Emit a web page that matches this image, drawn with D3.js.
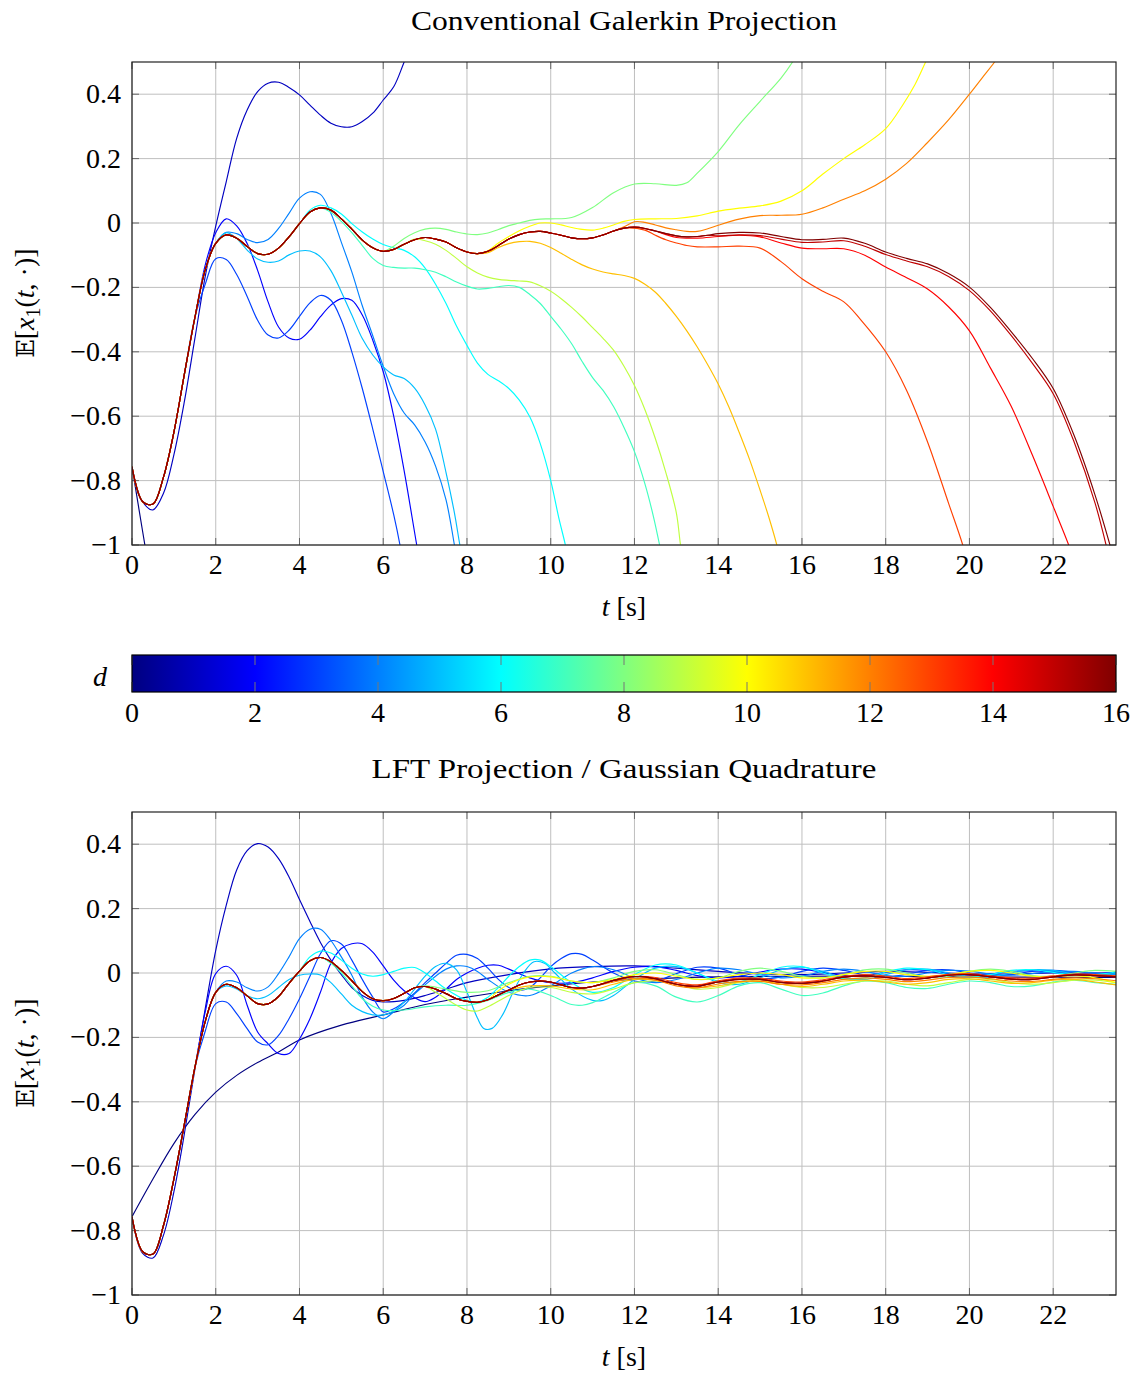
<!DOCTYPE html>
<html><head><meta charset="utf-8">
<script src="https://cdn.jsdelivr.net/npm/d3@7"></script>
<style>
body{margin:0;background:#fff}
text{font-family:"Liberation Serif","Times New Roman",serif;fill:#000}
</style>
</head><body>
<svg id="chart" width="1143" height="1374"></svg>
<script>
// ---------------- DATA ----------------
const xTicks = [0,2,4,6,8,10,12,14,16,18,20,22];
const yTicks = [-1,-0.8,-0.6,-0.4,-0.2,0,0.2,0.4];
const cbTicks = [0,2,4,6,8,10,12,14,16];

// Conventional Galerkin projection: common (converged) trajectory
const galMain = [[0,-0.757],[0.25,-0.865],[0.5,-0.873],[0.75,-0.79],[1,-0.65],[1.25,-0.47],[1.5,-0.295],[1.75,-0.145],[2,-0.063],[2.25,-0.037],[2.5,-0.047],[2.75,-0.073],[3,-0.095],[3.25,-0.097],[3.5,-0.078],[3.75,-0.043],[4,-0.002],[4.25,0.034],[4.5,0.047],[4.75,0.04],[5,0.013],[5.25,-0.019],[5.5,-0.053],[5.75,-0.077],[6,-0.088],[6.25,-0.082],[6.5,-0.066],[6.75,-0.052],[7,-0.045],[7.25,-0.05],[7.5,-0.059],[7.75,-0.077],[8,-0.09],[8.25,-0.095],[8.5,-0.088],[8.75,-0.07],[9,-0.05],[9.25,-0.036],[9.5,-0.028],[9.75,-0.026],[10,-0.031],[10.25,-0.038],[10.5,-0.046],[10.75,-0.049],[11,-0.046],[11.25,-0.037],[11.5,-0.025],[11.75,-0.016],[12,-0.013],[12.25,-0.017],[12.5,-0.025],[12.75,-0.033],[13,-0.04],[13.25,-0.043],[13.5,-0.042],[13.75,-0.038],[14,-0.033],[14.5,-0.029],[15,-0.031],[15.5,-0.042],[16,-0.052],[16.5,-0.051],[17,-0.047],[17.5,-0.063],[18,-0.09],[18.5,-0.11],[19,-0.127],[19.5,-0.157],[20,-0.199],[20.5,-0.262],[21,-0.338],[21.5,-0.42],[22,-0.514],[22.5,-0.66],[23,-0.845],[23.4,-1.02]];

// branches: [degree, time where it leaves the common trajectory, own points]
const galD0 = [0, 0.1, [[0.25,-0.955],[0.5,-1.15]]];
const galD1 = [1, 0.3, [[0.5,-0.891],[0.75,-0.84],[1,-0.72],[1.25,-0.555],[1.5,-0.36],[1.75,-0.165],[2,-0.01],[2.25,0.128],[2.5,0.263],[2.75,0.351],[3,0.408],[3.25,0.434],[3.5,0.437],[3.75,0.421],[4,0.398],[4.25,0.366],[4.5,0.335],[4.75,0.31],[5,0.299],[5.25,0.299],[5.5,0.315],[5.75,0.341],[6,0.382],[6.25,0.423],[6.5,0.5],[6.75,0.58]]];
const galD2 = [2, 1.6, [[1.75,-0.13],[2,-0.03],[2.25,0.013],[2.5,-0.009],[2.75,-0.064],[3,-0.147],[3.25,-0.245],[3.5,-0.323],[3.75,-0.357],[4,-0.361],[4.25,-0.333],[4.5,-0.291],[4.75,-0.255],[5,-0.235],[5.25,-0.24],[5.5,-0.286],[5.75,-0.364],[6,-0.462],[6.25,-0.6],[6.5,-0.77],[6.8,-1.0],[7,-1.15]]];
const galD3 = [3, 1.6, [[1.75,-0.19],[2,-0.111],[2.25,-0.113],[2.5,-0.16],[2.75,-0.228],[3,-0.302],[3.25,-0.348],[3.5,-0.357],[3.75,-0.333],[4,-0.29],[4.25,-0.248],[4.5,-0.225],[4.75,-0.24],[5,-0.302],[5.25,-0.4],[5.5,-0.514],[5.75,-0.64],[6,-0.772],[6.25,-0.906],[6.4,-1.0],[6.6,-1.15]]];
const galD4 = [4, 2.1, [[2.25,-0.029],[2.5,-0.033],[2.75,-0.051],[3,-0.061],[3.25,-0.051],[3.5,-0.017],[3.75,0.03],[4,0.077],[4.25,0.097],[4.5,0.089],[4.75,0.03],[5,-0.06],[5.25,-0.152],[5.5,-0.257],[5.75,-0.35],[6,-0.445],[6.25,-0.53],[6.5,-0.59],[6.75,-0.627],[7,-0.68],[7.25,-0.755],[7.5,-0.86],[7.7,-1.0],[7.85,-1.12]]];
const galD5 = [5, 2.1, [[2.25,-0.03],[2.5,-0.048],[2.75,-0.084],[3,-0.112],[3.25,-0.122],[3.5,-0.118],[3.75,-0.099],[4,-0.087],[4.25,-0.087],[4.5,-0.105],[4.75,-0.148],[5,-0.214],[5.25,-0.286],[5.5,-0.359],[5.75,-0.41],[6,-0.447],[6.25,-0.472],[6.5,-0.483],[6.75,-0.513],[7,-0.565],[7.25,-0.64],[7.5,-0.775],[7.7,-0.9],[7.83,-1.0],[8,-1.12]]];
const galD6 = [6, 4.1, [[4.25,0.04],[4.5,0.055],[4.75,0.047],[5,0.028],[5.25,-0.002],[5.5,-0.028],[5.75,-0.05],[6,-0.067],[6.25,-0.077],[6.5,-0.085],[6.75,-0.105],[7,-0.14],[7.25,-0.19],[7.5,-0.25],[7.75,-0.32],[8,-0.38],[8.25,-0.435],[8.5,-0.47],[8.75,-0.49],[9,-0.514],[9.25,-0.55],[9.5,-0.602],[9.75,-0.685],[10,-0.8],[10.2,-0.92],[10.35,-1.0],[10.5,-1.1]]];
const galD7 = [7, 4.6, [[4.75,0.033],[5,0.005],[5.25,-0.03],[5.5,-0.07],[5.75,-0.11],[6,-0.132],[6.25,-0.138],[6.5,-0.14],[6.75,-0.14],[7,-0.145],[7.25,-0.153],[7.5,-0.167],[7.75,-0.183],[8,-0.196],[8.25,-0.205],[8.5,-0.203],[8.75,-0.198],[9,-0.194],[9.25,-0.2],[9.5,-0.222],[9.75,-0.25],[10,-0.29],[10.25,-0.33],[10.5,-0.375],[10.75,-0.43],[11,-0.48],[11.25,-0.52],[11.5,-0.57],[11.75,-0.635],[12,-0.71],[12.25,-0.81],[12.45,-0.91],[12.6,-1.0],[12.75,-1.1]]];
const galD8 = [8, 6.1, [[6.25,-0.072],[6.5,-0.048],[6.75,-0.03],[7,-0.019],[7.25,-0.016],[7.5,-0.02],[7.75,-0.028],[8,-0.034],[8.25,-0.036],[8.5,-0.031],[8.75,-0.02],[9,-0.008],[9.25,0.0],[9.5,0.008],[9.75,0.012],[10,0.013],[10.5,0.017],[11,0.048],[11.5,0.094],[12,0.121],[12.5,0.122],[13,0.117],[13.25,0.125],[13.5,0.155],[14,0.222],[14.5,0.305],[15,0.378],[15.5,0.45],[15.8,0.505],[16,0.55]]];
const galD9 = [9, 6.6, [[6.75,-0.05],[7,-0.055],[7.25,-0.066],[7.5,-0.085],[7.75,-0.11],[8,-0.136],[8.25,-0.155],[8.5,-0.168],[8.75,-0.175],[9,-0.178],[9.25,-0.18],[9.5,-0.183],[9.75,-0.195],[10,-0.212],[10.25,-0.235],[10.5,-0.262],[10.75,-0.292],[11,-0.325],[11.25,-0.358],[11.5,-0.395],[11.75,-0.445],[12,-0.505],[12.25,-0.58],[12.5,-0.67],[12.75,-0.775],[13,-0.9],[13.1,-1.0],[13.25,-1.12]]];
const galD10 = [10, 8.4, [[8.5,-0.086],[8.75,-0.062],[9,-0.042],[9.25,-0.024],[9.5,-0.01],[9.75,0.0],[10,0.0],[10.25,-0.006],[10.5,-0.014],[10.75,-0.02],[11,-0.022],[11.25,-0.016],[11.5,-0.006],[11.75,0.005],[12,0.011],[12.5,0.013],[13,0.014],[13.5,0.022],[14,0.037],[14.5,0.046],[15,0.053],[15.5,0.068],[16,0.1],[16.5,0.152],[17,0.2],[17.5,0.243],[18,0.293],[18.4,0.365],[18.7,0.43],[18.96,0.502],[19.2,0.57]]];
const galD11 = [11, 8.4, [[8.5,-0.092],[8.75,-0.076],[9,-0.064],[9.25,-0.058],[9.5,-0.057],[9.75,-0.063],[10,-0.076],[10.25,-0.094],[10.5,-0.113],[10.75,-0.13],[11,-0.143],[11.25,-0.152],[11.5,-0.158],[11.75,-0.163],[12,-0.172],[12.25,-0.19],[12.5,-0.215],[12.75,-0.25],[13,-0.29],[13.25,-0.335],[13.5,-0.385],[13.75,-0.44],[14,-0.5],[14.25,-0.57],[14.5,-0.65],[14.75,-0.735],[15,-0.83],[15.2,-0.91],[15.4,-1.0],[15.55,-1.08]]];
const galD12 = [12, 11.6, [[11.75,-0.012],[12,0.004],[12.25,0.002],[12.5,-0.006],[12.75,-0.015],[13,-0.021],[13.25,-0.026],[13.5,-0.026],[13.75,-0.018],[14,-0.007],[14.5,0.012],[15,0.023],[15.5,0.024],[16,0.027],[16.5,0.047],[17,0.074],[17.5,0.1],[18,0.136],[18.5,0.185],[19,0.25],[19.5,0.32],[20,0.4],[20.3,0.45],[20.6,0.5],[20.8,0.54]]];
const galD13 = [13, 11.9, [[12.25,-0.022],[12.5,-0.038],[12.75,-0.052],[13,-0.062],[13.25,-0.07],[13.5,-0.074],[14,-0.074],[14.5,-0.072],[15,-0.078],[15.5,-0.12],[16,-0.173],[16.5,-0.212],[17,-0.245],[17.4,-0.3],[18,-0.4],[18.5,-0.52],[19,-0.68],[19.5,-0.87],[19.84,-1.0],[20,-1.08]]];
const galD14 = [14, 12.6, [[12.75,-0.036],[13,-0.045],[13.5,-0.047],[14,-0.042],[14.5,-0.038],[15,-0.043],[15.5,-0.062],[16,-0.078],[16.5,-0.08],[17,-0.08],[17.5,-0.1],[18,-0.137],[18.5,-0.17],[19,-0.205],[19.5,-0.26],[20,-0.335],[20.5,-0.45],[21,-0.57],[21.5,-0.72],[22,-0.88],[22.37,-1.0],[22.5,-1.05]]];
const galD15 = [15, 13.9, [[14,-0.04],[14.5,-0.037],[15,-0.039],[15.5,-0.05],[16,-0.06],[16.5,-0.059],[17,-0.055],[17.5,-0.072],[18,-0.098],[18.5,-0.118],[19,-0.136],[19.5,-0.166],[20,-0.21],[20.5,-0.273],[21,-0.35],[21.5,-0.435],[22,-0.53],[22.5,-0.68],[23,-0.87],[23.3,-1.02]]];
const galD16 = [16, 99, []];

// LFT projection / Gaussian quadrature: common trajectory
const lftMain = [[0,-0.757],[0.25,-0.865],[0.5,-0.873],[0.75,-0.785],[1,-0.64],[1.25,-0.47],[1.5,-0.295],[1.75,-0.15],[2,-0.06],[2.25,-0.035],[2.5,-0.046],[2.75,-0.071],[3,-0.095],[3.25,-0.096],[3.5,-0.073],[3.75,-0.032],[4,0.006],[4.25,0.038],[4.5,0.048],[4.75,0.035],[5,0.008],[5.25,-0.024],[5.5,-0.058],[5.75,-0.08],[6,-0.086],[6.25,-0.079],[6.5,-0.063],[6.75,-0.046],[7,-0.042],[7.25,-0.05],[7.5,-0.064],[7.75,-0.08],[8,-0.088],[8.25,-0.091],[8.5,-0.083],[8.75,-0.068],[9,-0.053],[9.25,-0.037],[9.5,-0.028],[9.75,-0.025],[10,-0.028],[10.25,-0.037],[10.5,-0.045],[10.75,-0.047],[11,-0.042],[11.25,-0.033],[11.5,-0.023],[11.75,-0.015],[12,-0.011],[12.25,-0.012],[12.5,-0.018],[12.75,-0.027],[13,-0.035],[13.25,-0.04],[13.5,-0.041],[13.75,-0.035],[14,-0.028],[14.5,-0.02],[15,-0.02],[15.5,-0.029],[16,-0.032],[16.5,-0.025],[17,-0.013],[17.5,-0.009],[18,-0.014],[18.5,-0.021],[19,-0.016],[19.5,-0.007],[20,-0.005],[20.5,-0.012],[21,-0.019],[21.5,-0.02],[22,-0.012],[22.5,-0.006],[23,-0.008],[23.5,-0.012]];

const lftD0 = [0, 0.1, [[0.5,-0.64],[1,-0.53],[1.5,-0.44],[2,-0.37],[2.5,-0.318],[3,-0.278],[3.5,-0.245],[4,-0.208],[5,-0.162],[6,-0.13],[7,-0.098],[8,-0.075],[9,-0.055],[10,-0.04],[11,-0.028],[12,-0.02],[13,-0.015],[14,-0.012],[16,-0.01],[18,-0.01],[20,-0.012],[22,-0.013],[23.5,-0.014]]];
const lftD1 = [1, 0.1, [[0.25,-0.87],[0.5,-0.885],[0.75,-0.815],[1,-0.68],[1.25,-0.5],[1.5,-0.3],[1.75,-0.11],[2,0.07],[2.25,0.21],[2.5,0.32],[2.75,0.38],[3,0.402],[3.25,0.391],[3.5,0.355],[3.75,0.298],[4,0.228],[4.25,0.16],[4.5,0.095],[4.75,0.04],[5,-0.005],[5.25,-0.045],[5.5,-0.07],[5.75,-0.085],[6,-0.09],[6.5,-0.085],[7,-0.07],[7.5,-0.05],[8,-0.03],[9,-0.005],[10,0.013],[11,0.02],[12,0.022],[13,0.015],[14,0.005],[15,-0.003],[16,-0.005],[17,0.0],[18,0.005],[19,0.002],[20,-0.003],[21,-0.003],[22,0.0],[23.5,0.0]]];
const lftD2 = [2, 1.6, [[1.75,-0.12],[2,-0.002],[2.25,0.021],[2.5,-0.007],[2.75,-0.1],[3,-0.183],[3.25,-0.22],[3.5,-0.25],[3.75,-0.25],[4,-0.205],[4.25,-0.142],[4.5,-0.06],[4.75,0.03],[5,0.076],[5.25,0.091],[5.5,0.091],[5.75,0.065],[6,0.022],[6.25,-0.022],[6.5,-0.055],[6.75,-0.077],[7,-0.089],[7.25,-0.075],[7.5,-0.05],[7.75,-0.02],[8,0.0],[8.25,0.015],[8.5,0.024],[8.75,0.024],[9,0.012],[9.5,-0.015],[10,-0.03],[10.5,-0.03],[11,-0.015],[11.5,0.005],[12,0.018],[12.5,0.02],[13,0.008],[13.5,-0.008],[14,-0.015],[14.5,-0.01],[15,0.003],[15.5,0.012],[16,0.012],[16.5,0.002],[17,-0.008],[17.5,-0.008],[18,0.002],[18.5,0.01],[19,0.008],[19.5,-0.002],[20,-0.007],[20.5,-0.003],[21,0.005],[21.5,0.007],[22,0.002],[22.5,-0.004],[23,-0.003],[23.5,0.003]]];
const lftD3 = [3, 1.6, [[1.75,-0.18],[2,-0.095],[2.25,-0.09],[2.5,-0.126],[2.75,-0.173],[3,-0.214],[3.25,-0.223],[3.5,-0.194],[3.75,-0.142],[4,-0.08],[4.25,-0.01],[4.5,0.06],[4.75,0.1],[5,0.09],[5.25,0.04],[5.5,-0.02],[5.75,-0.075],[6,-0.121],[6.25,-0.111],[6.5,-0.09],[6.75,-0.062],[7,-0.03],[7.25,0.0],[7.5,0.03],[7.75,0.055],[8,0.058],[8.25,0.045],[8.5,0.015],[8.75,-0.02],[9,-0.045],[9.25,-0.055],[9.5,-0.045],[9.75,-0.015],[10,0.02],[10.25,0.045],[10.5,0.06],[10.75,0.058],[11,0.04],[11.5,0.0],[12,-0.025],[12.5,-0.025],[13,-0.002],[13.5,0.018],[14,0.015],[14.5,-0.005],[15,-0.018],[15.5,-0.012],[16,0.005],[16.5,0.015],[17,0.008],[17.5,-0.006],[18,-0.012],[18.5,-0.004],[19,0.008],[19.5,0.01],[20,0.0],[20.5,-0.008],[21,-0.005],[21.5,0.005],[22,0.008],[22.5,0.002],[23,-0.005],[23.5,-0.004]]];
const lftD4 = [4, 2.1, [[2.25,-0.025],[2.5,-0.028],[2.75,-0.046],[3,-0.056],[3.25,-0.043],[3.5,-0.002],[3.75,0.05],[4,0.107],[4.25,0.136],[4.5,0.136],[4.75,0.101],[5,0.05],[5.25,-0.007],[5.5,-0.075],[5.75,-0.121],[6,-0.142],[6.25,-0.121],[6.5,-0.1],[6.75,-0.065],[7,-0.037],[7.25,-0.01],[7.5,0.012],[7.75,0.022],[8,0.02],[8.25,0.005],[8.5,-0.02],[9,-0.06],[9.5,-0.07],[10,-0.04],[10.5,0.0],[11,0.02],[11.5,0.01],[12,-0.015],[12.5,-0.03],[13,-0.02],[13.5,0.0],[14,0.015],[14.5,0.01],[15,-0.005],[15.5,-0.015],[16,-0.01],[16.5,0.005],[17,0.012],[17.5,0.005],[18,-0.008],[18.5,-0.01],[19,0.0],[19.5,0.008],[20,0.006],[20.5,-0.003],[21,-0.007],[21.5,-0.002],[22,0.005],[22.5,0.005],[23,0.0],[23.5,-0.003]]];
const lftD5 = [5, 2.1, [[2.25,-0.04],[2.5,-0.05],[2.75,-0.07],[3,-0.08],[3.25,-0.07],[3.5,-0.045],[3.75,-0.02],[4,-0.007],[4.25,-0.003],[4.5,-0.006],[4.75,-0.03],[5,-0.065],[5.25,-0.1],[5.5,-0.12],[5.75,-0.13],[6,-0.13],[6.25,-0.118],[6.5,-0.09],[6.75,-0.05],[7,-0.01],[7.25,0.02],[7.5,0.03],[7.75,0.01],[8,-0.06],[8.25,-0.14],[8.4,-0.172],[8.6,-0.172],[8.85,-0.13],[9.1,-0.06],[9.35,0.0],[9.6,0.035],[9.85,0.03],[10.1,0.0],[10.5,-0.05],[11,-0.085],[11.25,-0.085],[11.5,-0.07],[12,-0.02],[12.5,0.015],[13,0.02],[13.5,0.0],[14,-0.03],[14.5,-0.035],[15,-0.015],[15.5,0.01],[16,0.018],[16.5,0.005],[17,-0.015],[17.5,-0.02],[18,-0.005],[18.5,0.01],[19,0.012],[19.5,0.0],[20,-0.012],[20.5,-0.012],[21,0.0],[21.5,0.01],[22,0.008],[22.5,-0.003],[23,-0.008],[23.5,-0.002]]];
const lftD6 = [6, 4.1, [[4.25,0.05],[4.5,0.068],[4.75,0.062],[5,0.04],[5.25,0.015],[5.5,-0.003],[5.75,-0.01],[6,-0.005],[6.25,0.005],[6.5,0.015],[6.75,0.017],[7,0.0],[7.25,-0.025],[7.5,-0.05],[8,-0.085],[8.25,-0.09],[8.5,-0.075],[8.75,-0.045],[9,-0.01],[9.25,0.02],[9.5,0.04],[9.75,0.04],[10,0.02],[10.5,-0.03],[11,-0.06],[11.5,-0.045],[12,-0.005],[12.5,0.025],[13,0.025],[13.5,0.0],[14,-0.025],[14.5,-0.028],[15,-0.005],[15.5,0.018],[16,0.02],[16.5,0.0],[17,-0.018],[17.5,-0.015],[18,0.003],[18.5,0.015],[19,0.01],[19.5,-0.005],[20,-0.012],[20.5,-0.005],[21,0.008],[21.5,0.01],[22,0.002],[22.5,-0.006],[23,-0.005],[23.5,0.003]]];
const lftD7 = [7, 4.6, [[4.75,0.03],[5,0.0],[5.25,-0.04],[5.5,-0.08],[5.75,-0.103],[6,-0.115],[6.5,-0.115],[7,-0.105],[7.5,-0.1],[8,-0.1],[8.5,-0.085],[9,-0.06],[9.5,-0.05],[10,-0.07],[10.5,-0.098],[10.75,-0.1],[11,-0.092],[11.5,-0.06],[12,-0.03],[12.5,-0.04],[13,-0.075],[13.5,-0.09],[14,-0.07],[14.5,-0.04],[15,-0.03],[15.5,-0.05],[16,-0.07],[16.5,-0.062],[17,-0.04],[17.5,-0.025],[18,-0.03],[18.5,-0.045],[19,-0.048],[19.5,-0.035],[20,-0.025],[20.5,-0.03],[21,-0.042],[21.5,-0.04],[22,-0.028],[22.5,-0.022],[23,-0.03],[23.5,-0.035]]];
const lftD8 = [8, 6.9, [[7,-0.04],[7.5,-0.05],[8,-0.06],[8.5,-0.055],[9,-0.03],[9.5,-0.01],[10,-0.01],[10.5,-0.025],[11,-0.03],[11.5,-0.015],[12,0.005],[12.5,0.01],[13,-0.005],[13.5,-0.02],[14,-0.015],[14.5,0.005],[15,0.015],[15.5,0.005],[16,-0.01],[16.5,-0.015],[17,-0.005],[17.5,0.01],[18,0.012],[18.5,0.0],[19,-0.012],[19.5,-0.01],[20,0.005],[20.5,0.012],[21,0.005],[21.5,-0.008],[22,-0.01],[22.5,0.0],[23,0.008],[23.5,0.005]]];
const lftD9 = [9, 7.1, [[7.25,-0.06],[7.5,-0.08],[7.75,-0.1],[8,-0.115],[8.25,-0.118],[8.5,-0.105],[9,-0.07],[9.5,-0.045],[10,-0.045],[10.5,-0.06],[11,-0.065],[11.5,-0.05],[12,-0.03],[12.5,-0.025],[13,-0.035],[13.5,-0.05],[14,-0.045],[14.5,-0.03],[15,-0.025],[15.5,-0.035],[16,-0.045],[16.5,-0.045],[17,-0.035],[17.5,-0.025],[18,-0.025],[18.5,-0.035],[19,-0.04],[19.5,-0.03],[20,-0.02],[20.5,-0.02],[21,-0.03],[21.5,-0.035],[22,-0.03],[22.5,-0.022],[23,-0.022],[23.5,-0.03]]];
const lftD10 = [10, 8.6, [[8.75,-0.055],[9,-0.035],[9.25,-0.02],[9.5,-0.012],[10,-0.012],[10.5,-0.025],[11,-0.03],[11.5,-0.02],[12,-0.005],[12.5,0.0],[13,-0.01],[13.5,-0.02],[14,-0.015],[14.5,-0.005],[15,0.0],[15.5,-0.005],[16,-0.015],[16.5,-0.015],[17,-0.005],[17.5,0.005],[18,0.005],[18.5,-0.005],[19,-0.01],[19.5,-0.005],[20,0.005],[20.5,0.008],[21,0.0],[21.5,-0.01],[22,-0.012],[22.5,-0.008],[23,-0.015],[23.5,-0.03]]];
const lftD11 = [11, 9.1, [[9.25,-0.045],[9.5,-0.04],[10,-0.04],[10.5,-0.05],[11,-0.052],[11.5,-0.035],[12,-0.02],[12.5,-0.022],[13,-0.035],[13.5,-0.045],[14,-0.04],[14.5,-0.028],[15,-0.025],[15.5,-0.035],[16,-0.042],[16.5,-0.035],[17,-0.025],[17.5,-0.022],[18,-0.028],[18.5,-0.035],[19,-0.03],[19.5,-0.02],[20,-0.018],[20.5,-0.025],[21,-0.032],[21.5,-0.03],[22,-0.022],[22.5,-0.02],[23,-0.028],[23.5,-0.037]]];
const lftD12 = [12, 11.1, [[11.5,-0.028],[12,-0.016],[12.5,-0.022],[13,-0.04],[13.5,-0.046],[14,-0.034],[14.5,-0.026],[15,-0.026],[15.5,-0.035],[16,-0.037],[16.5,-0.03],[17,-0.02],[17.5,-0.015],[18,-0.02],[18.5,-0.027],[19,-0.022],[19.5,-0.014],[20,-0.012],[20.5,-0.018],[21,-0.025],[21.5,-0.026],[22,-0.02],[22.5,-0.015],[23,-0.018],[23.5,-0.024]]];
const lftD13 = [13, 12.1, [[12.5,-0.014],[13,-0.03],[13.5,-0.037],[14,-0.024],[14.5,-0.016],[15,-0.016],[15.5,-0.025],[16,-0.028],[16.5,-0.021],[17,-0.01],[17.5,-0.005],[18,-0.01],[18.5,-0.017],[19,-0.012],[19.5,-0.004],[20,-0.002],[20.5,-0.009],[21,-0.015],[21.5,-0.016],[22,-0.009],[22.5,-0.003],[23,-0.005],[23.5,-0.009]]];
const lftD14 = [14, 99, []];
const lftD15 = [15, 99, []];
const lftD16 = [16, 99, []];

const galBranches = [galD0,galD1,galD2,galD3,galD4,galD5,galD6,galD7,galD8,galD9,galD10,galD11,galD12,galD13,galD14,galD15,galD16];
const lftBranches = [lftD0,lftD1,lftD2,lftD3,lftD4,lftD5,lftD6,lftD7,lftD8,lftD9,lftD10,lftD11,lftD12,lftD13,lftD14,lftD15,lftD16];

// ---------------- DRAWING ----------------
const svg = d3.select("#chart");
const FS = 28;
const jetPos = [0,1/8,3/8,5/8,7/8,1];
const jetCol = ["#000080","#0000ff","#00ffff","#ffff00","#ff0000","#800000"];
const jet = d3.scaleLinear().domain(jetPos.map(p=>p*16)).range(jetCol).interpolate(d3.interpolateRgb);

const x = d3.scaleLinear().domain([0,23.5]).range([132,1116]);

function buildSeries(main, br){
  const [d,T,pts] = br;
  return {d, pts: main.filter(p=>p[0] < T).concat(pts)};
}

function panel(top, bottom, title, titleLen, titleY, main, branches, clipId, labelCy, xlabY){
  const y = d3.scaleLinear().domain([-1,0.5]).range([bottom, top]);
  const g = svg.append("g");
  g.append("g").selectAll("line").data(xTicks).join("line")
    .attr("x1",d=>x(d)).attr("x2",d=>x(d)).attr("y1",top).attr("y2",bottom)
    .attr("stroke","#bfbfbf").attr("stroke-width",1);
  g.append("g").selectAll("line").data(yTicks).join("line")
    .attr("y1",d=>y(d)).attr("y2",d=>y(d)).attr("x1",x(0)).attr("x2",1116)
    .attr("stroke","#bfbfbf").attr("stroke-width",1);
  const tk = g.append("g").attr("stroke","#666").attr("stroke-width",1);
  xTicks.forEach(v=>{
    tk.append("line").attr("x1",x(v)).attr("x2",x(v)).attr("y1",bottom).attr("y2",bottom-7);
    tk.append("line").attr("x1",x(v)).attr("x2",x(v)).attr("y1",top).attr("y2",top+7);
  });
  yTicks.forEach(v=>{
    tk.append("line").attr("x1",132).attr("x2",139).attr("y1",y(v)).attr("y2",y(v));
    tk.append("line").attr("x1",1116).attr("x2",1109).attr("y1",y(v)).attr("y2",y(v));
  });
  svg.append("clipPath").attr("id",clipId).append("rect")
    .attr("x",132).attr("y",top).attr("width",1116-132).attr("height",bottom-top);
  const line = d3.line().x(p=>x(p[0])).y(p=>y(p[1])).curve(d3.curveCatmullRom.alpha(0.5));
  const series = branches.map(b=>buildSeries(main,b));
  g.append("g").attr("clip-path",`url(#${clipId})`).selectAll("path").data(series).join("path")
    .attr("d",s=>line(s.pts)).attr("fill","none")
    .attr("stroke",s=>jet(s.d)).attr("stroke-width",1.15).attr("stroke-linejoin","round");
  g.append("rect").attr("x",132).attr("y",top).attr("width",1116-132).attr("height",bottom-top)
    .attr("fill","none").attr("stroke","#222").attr("stroke-width",1.2);
  const fmt = d3.format("~g");
  g.append("g").selectAll("text").data(xTicks).join("text")
    .attr("x",d=>x(d)).attr("y",bottom+29).attr("text-anchor","middle").attr("font-size",FS)
    .text(d=>fmt(d));
  g.append("g").selectAll("text").data(yTicks).join("text")
    .attr("x",121).attr("y",d=>y(d)+9).attr("text-anchor","end").attr("font-size",FS)
    .text(d=>fmt(d));
  g.append("text").attr("x",624).attr("y",titleY).attr("text-anchor","middle").attr("font-size",FS)
    .attr("textLength",titleLen).attr("lengthAdjust","spacingAndGlyphs").text(title);
  const xl = g.append("text").attr("x",624).attr("y",xlabY).attr("text-anchor","middle").attr("font-size",FS);
  xl.append("tspan").attr("font-style","italic").text("t");
  xl.append("tspan").text(" [s]");
  const yl = g.append("text").attr("transform",`translate(34,${labelCy}) rotate(-90)`)
    .attr("text-anchor","middle").attr("font-size",FS);
  yl.append("tspan").attr("font-family","DejaVu Serif, DejaVu Sans, serif").attr("font-size",24).text("𝔼");
  yl.append("tspan").text("[");
  yl.append("tspan").attr("font-style","italic").text("x");
  yl.append("tspan").attr("font-size",20).attr("dy",6).text("1");
  yl.append("tspan").attr("dy",-6).text("(");
  yl.append("tspan").attr("font-style","italic").text("t");
  yl.append("tspan").text(", ·)]");
}

panel(62,545,"Conventional Galerkin Projection",426,30,galMain,galBranches,"clipA",303,616);
panel(812,1295,"LFT Projection / Gaussian Quadrature",505,778,lftMain,lftBranches,"clipB",1053,1366);

// ---------------- COLORBAR ----------------
const cx = d3.scaleLinear().domain([0,16]).range([132,1116]);
const grad = svg.append("defs").append("linearGradient").attr("id","jetGrad")
  .attr("x1","0%").attr("x2","100%").attr("y1","0%").attr("y2","0%");
jetPos.forEach((p,i)=>grad.append("stop").attr("offset",(p*100)+"%").attr("stop-color",jetCol[i]));
svg.append("rect").attr("x",cx(0)).attr("y",655).attr("width",cx(16)-cx(0)).attr("height",37)
  .attr("fill","url(#jetGrad)");
const cbt = svg.append("g").attr("stroke","#777").attr("stroke-width",1);
cbTicks.forEach(v=>{
  cbt.append("line").attr("x1",cx(v)).attr("x2",cx(v)).attr("y1",655).attr("y2",665);
  cbt.append("line").attr("x1",cx(v)).attr("x2",cx(v)).attr("y1",692).attr("y2",682);
});
svg.append("rect").attr("x",cx(0)).attr("y",655).attr("width",cx(16)-cx(0)).attr("height",37)
  .attr("fill","none").attr("stroke","#000").attr("stroke-width",1.2);
svg.append("g").selectAll("text").data(cbTicks).join("text")
  .attr("x",d=>cx(d)).attr("y",722).attr("text-anchor","middle").attr("font-size",FS).text(d=>d);
svg.append("text").attr("x",100).attr("y",686).attr("text-anchor","middle").attr("font-size",FS)
  .attr("font-style","italic").text("d");
</script>
</body></html>
